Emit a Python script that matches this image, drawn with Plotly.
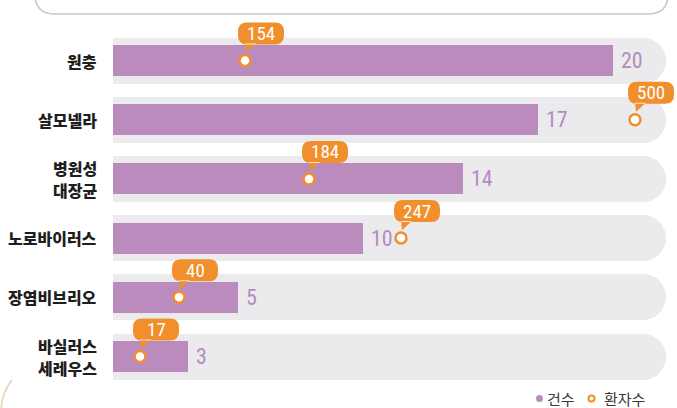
import plotly.graph_objects as go

# ---- data ----
categories = ["원충", "살모넬라", "병원성<br>대장균", "노로바이러스", "장염비브리오", "바실러스<br>세레우스"]
cases = [20, 17, 14, 10, 5, 3]                 # 건수
patients = [154, 500, 184, 247, 40, 17]        # 환자수
# horizontal placement of the patient markers along the case axis
patient_pos = [5.28, 20.88, 7.84, 11.52, 2.64, 1.08]
legend_labels = ["건수", "환자수"]

# ---- styles ----
W, H = 677, 408
BAR = "#BB8BBE"
TRACK = "#EBEBED"
ORANGE = "#F08F2B"
VALUE_TXT = "#B48BBE"
TRACK_MAX = 22.12
NUM_FONT = "Roboto Condensed, Open Sans, Roboto, sans-serif"
KR_FONT = "Noto Sans CJK KR, Noto Sans, sans-serif"
COND = '<span style="font-stretch:75%">{}</span>'

rows = list(range(len(categories)))

fig = go.Figure()

fig.add_trace(go.Bar(
    y=rows, x=[TRACK_MAX] * len(rows), orientation="h",
    marker=dict(color=TRACK, line=dict(width=0), cornerradius=23),
    width=0.777, hoverinfo="skip", showlegend=False))

fig.add_trace(go.Bar(
    y=rows, x=cases, orientation="h",
    marker=dict(color=BAR, line=dict(width=0), cornerradius=15),
    width=0.524, name=legend_labels[0], showlegend=False))

fig.add_trace(go.Scatter(
    x=patient_pos, y=rows, mode="markers",
    marker=dict(size=11, color="white", line=dict(color=ORANGE, width=2.5)),
    name=legend_labels[1], showlegend=False, customdata=patients,
    hovertemplate="%{customdata}<extra></extra>"))

annotations = []
shapes = []

for i, (cat, v, p, pos) in enumerate(zip(categories, cases, patients, patient_pos)):
    lines = cat.split("<br>")
    n = len(lines)
    for k, line in enumerate(lines):
        annotations.append(dict(
            x=99 / W, xref="paper", y=i, yref="y", xanchor="right", yanchor="middle",
            yshift=(n - 1) * 11 - k * 22,
            text=line, showarrow=False, align="right",
            font=dict(family=KR_FONT, size=16, color="#1E1E1E", weight=900)))
    annotations.append(dict(
        x=v, xref="x", y=i, yref="y", xanchor="left", yanchor="middle", xshift=6,
        text=COND.format(v), showarrow=False,
        font=dict(family=NUM_FONT, size=22, color=VALUE_TXT, weight=400)))
    r = 9
    x0, x1, y0, y1 = -7, 39, 16, 38
    path = (f"M {x0+r},{y0} L {x1-r},{y0} Q {x1},{y0} {x1},{y0+r} "
            f"L {x1},{y1-r} Q {x1},{y1} {x1-r},{y1} L {x0+r},{y1} "
            f"Q {x0},{y1} {x0},{y1-r} L {x0},{y0+r} Q {x0},{y0} {x0+r},{y0} Z "
            f"M 0,{y0+1} L 11,{y0+1} L 1,8 Z")
    shapes.append(dict(
        type="path", xref="x", yref="y", xsizemode="pixel", ysizemode="pixel",
        xanchor=pos, yanchor=i, path=path,
        fillcolor=ORANGE, line=dict(width=0), layer="above"))
    annotations.append(dict(
        x=pos, xref="x", y=i, yref="y", xshift=16, yshift=27,
        xanchor="center", yanchor="middle", text=COND.format(p), showarrow=False,
        font=dict(family=NUM_FONT, size=19, color="white", weight=400)))


def px(x):
    return x / W


def py(y):
    return 1 - y / H


# legend (custom): markers as shapes, labels as text
LY = 398.5
shapes.append(dict(type="circle", xref="paper", yref="paper",
                   x0=px(536), x1=px(543), y0=py(LY + 3.5), y1=py(LY - 3.5),
                   fillcolor=BAR, line=dict(width=0)))
shapes.append(dict(type="circle", xref="paper", yref="paper",
                   x0=px(588.5), x1=px(594.5), y0=py(LY + 3), y1=py(LY - 3),
                   fillcolor="white", line=dict(color=ORANGE, width=2)))
annotations.append(dict(
    x=px(545), xref="paper", y=py(LY), yref="paper", xanchor="left", yanchor="middle",
    showarrow=False, text=legend_labels[0],
    font=dict(family=KR_FONT, size=15, color="#3A3A3A")))
annotations.append(dict(
    x=px(602), xref="paper", y=py(LY), yref="paper", xanchor="left", yanchor="middle",
    showarrow=False, text=legend_labels[1],
    font=dict(family=KR_FONT, size=15, color="#3A3A3A")))

R = 20
top = -40
L_, Rr, B = 35, 668, 14
hdr = (f"M {px(L_)},{py(top)} L {px(L_)},{py(B-R)} Q {px(L_)},{py(B)} {px(L_+R)},{py(B)} "
       f"L {px(Rr-R)},{py(B)} Q {px(Rr)},{py(B)} {px(Rr)},{py(B-R)} L {px(Rr)},{py(top)}")
shapes.append(dict(type="path", xref="paper", yref="paper", path=hdr,
                   line=dict(color="#C8C8CC", width=1.6), layer="below"))
arc = f"M {px(12)},{py(380)} Q {px(2)},{py(392)} {px(1)},{py(410)}"
shapes.append(dict(type="path", xref="paper", yref="paper", path=arc,
                   line=dict(color="#E3D3B2", width=1.5), layer="below"))

fig.update_layout(
    width=W, height=H, margin=dict(l=0, r=0, t=0, b=0),
    paper_bgcolor="white", plot_bgcolor="white",
    barmode="overlay", bargap=0,
    xaxis=dict(range=[-113 / 25, (W - 113) / 25], visible=False, fixedrange=True),
    yaxis=dict(range=[(H - 60.5) / 59.2, -60.5 / 59.2], visible=False, fixedrange=True),
    annotations=annotations, shapes=shapes, showlegend=False,
)

fig.write_html("out.html", config={"displayModeBar": False},
               post_script="document.body.style.margin='0';document.body.style.overflow='hidden';")
